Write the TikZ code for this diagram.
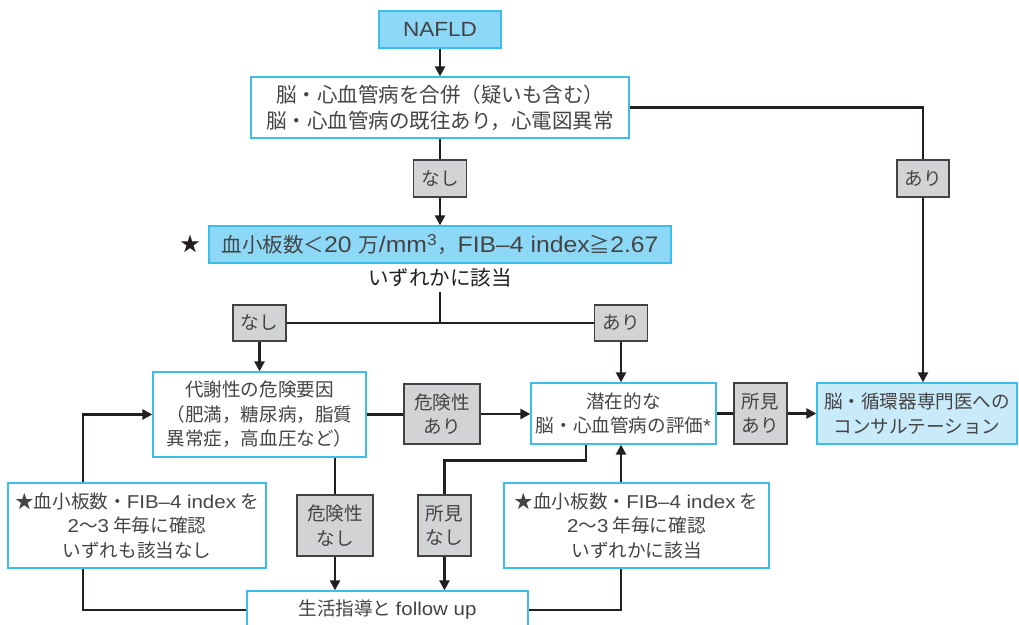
\documentclass[tikz,border=0pt]{standalone}
\usepackage{fontspec}
\setmainfont{Noto Sans CJK JP}
\newfontfamily\latf[FakeStretch=1.1]{Liberation Sans}
\usetikzlibrary{arrows.meta}
\definecolor{txt}{HTML}{444444}
\definecolor{cyanb}{HTML}{3CBDEB}
\definecolor{fillA}{HTML}{8ED8F7}
\definecolor{fillB}{HTML}{C8EAF9}
\definecolor{labg}{HTML}{D2D3D5}
\definecolor{lin}{HTML}{231F20}
\newcommand\La[1]{{\latf #1}}
\newcommand\LaP[1]{{\latf\fontsize{22.5}{26}\selectfont #1}}
\tikzset{
  box/.style={draw=cyanb, line width=1.3pt, fill=white, text=txt, align=center,
    inner sep=0pt, font=\fontsize{18.6}{24.5}\selectfont},
  bigf/.style={font=\fontsize{20.5}{26}\selectfont},
  lab/.style={draw=lin!85, fill=labg, line width=1.2pt, text=txt, align=center,
    inner sep=0pt, font=\fontsize{18.6}{24.5}\selectfont},
  conn/.style={draw=lin, line width=2.4pt},
  arr/.style={conn, -{Triangle[length=10pt,width=10pt]}}
}
\begin{document}
\begin{tikzpicture}[x=1pt,y=-1pt]
\useasboundingbox (0,0) rectangle (1019,624);
% nodes
\node[box, fill=fillA, bigf, minimum width=122pt, minimum height=37pt] (nafld) at (440,29.5) {\La{NAFLD}};
\node[box, bigf, minimum width=378pt, minimum height=61pt] (cvd) at (440,107.5)
  {脳・心血管病を合併（疑いも含む）\\脳・心血管病の既往あり，心電図異常};
\node[lab, minimum width=53pt, minimum height=37pt] (n1) at (440,178.5) {なし};
\node[box, fill=fillA, bigf, minimum width=462pt, minimum height=37pt] (plt) at (440,244.5)
  {血小板数＜\LaP{20 }万\LaP{/mm\textsuperscript{3}}，\LaP{FIB–4 index}≧\LaP{2.67}};
\node[text=lin, font=\fontsize{20}{24}\selectfont, inner sep=0pt] (star) at (190,244) {★};
\node[text=lin, bigf, inner sep=4pt] (any) at (440,278) {いずれかに該当};
\node[lab, minimum width=53pt, minimum height=36pt] (n2) at (259.5,323) {なし};
\node[lab, minimum width=53pt, minimum height=36pt] (a2) at (621,323) {あり};
\node[box, minimum width=213pt, minimum height=85pt] (met) at (259.5,414.5)
  {代謝性の危険要因\\（肥満，糖尿病，脂質\\異常症，高血圧など）};
\node[lab, minimum width=76pt, minimum height=60pt] (ra) at (442,414) {危険性\\あり};
\node[box, minimum width=185pt, minimum height=61pt] (lat) at (623.5,413.5)
  {潜在的な\\脳・心血管病の評価\La{*}};
\node[lab, minimum width=53pt, minimum height=61pt] (fa) at (760.5,413.5) {所見\\あり};
\node[box, fill=fillB, minimum width=200pt, minimum height=61pt] (con) at (917,413.5)
  {脳・循環器専門医への\\コンサルテーション};
\node[lab, minimum width=52pt, minimum height=37pt] (a1) at (923,178.5) {あり};
\node[box, minimum width=258pt, minimum height=85pt] (ls) at (137,525.5)
  {★血小板数・\La{FIB–4 index} を\\\La{2}〜\La{3} 年毎に確認\\いずれも該当なし};
\node[box, minimum width=265pt, minimum height=85pt] (rs) at (636.5,525.5)
  {★血小板数・\La{FIB–4 index} を\\\La{2}〜\La{3} 年毎に確認\\いずれかに該当};
\node[lab, minimum width=76pt, minimum height=61pt] (rn) at (335,525.5) {危険性\\なし};
\node[lab, minimum width=53pt, minimum height=61pt] (fn) at (444.5,525.5) {所見\\なし};
\node[box, minimum width=281pt, minimum height=38pt] (life) at (387.5,610) {生活指導と \La{follow up}};
\coordinate (j) at (440,323);
% connectors
\draw[arr] (nafld) -- (cvd);
\draw[conn] (cvd) -- (n1);
\draw[arr] (n1) -- (plt);
\draw[conn] (cvd.east) -- (cvd.east -| a1) -- (a1.north);
\draw[arr] (a1.south) -- (a1.south |- con.north);
\draw[conn] (any.south) -- (j);
\draw[conn] (n2.east) -- (a2.west);
\draw[arr] (n2) -- (met);
\draw[arr] (a2.south) -- (a2.south |- lat.north);
\draw[conn] (met.east) -- (met.east -| ra.west);
\draw[arr] (ra.east) -- (ra.east -| lat.west);
\draw[conn] (lat.east) -- (lat.east -| fa.west);
\draw[arr] (fa.east) -- (fa.east -| con.west);
\draw[conn] (rn |- met.south) -- (rn.north);
\draw[arr] (rn.south) -- (rn.south |- life.north);
\draw[conn] ([xshift=-37.5pt]lat.south) -- ++(0,16) -| (fn.north);
\draw[arr] (fn.south) -- (fn.south |- life.north);
\draw[conn] (life.west) -| ([xshift=-54pt]ls.south);
\draw[arr] ([xshift=-54pt]ls.north) |- (met.west);
\draw[conn] (life.east) -| ([xshift=-15.5pt]rs.south);
\draw[arr] ([xshift=-15.5pt]rs.north) -- ([xshift=-15.5pt]rs.north |- lat.south);
\end{tikzpicture}
\end{document}
